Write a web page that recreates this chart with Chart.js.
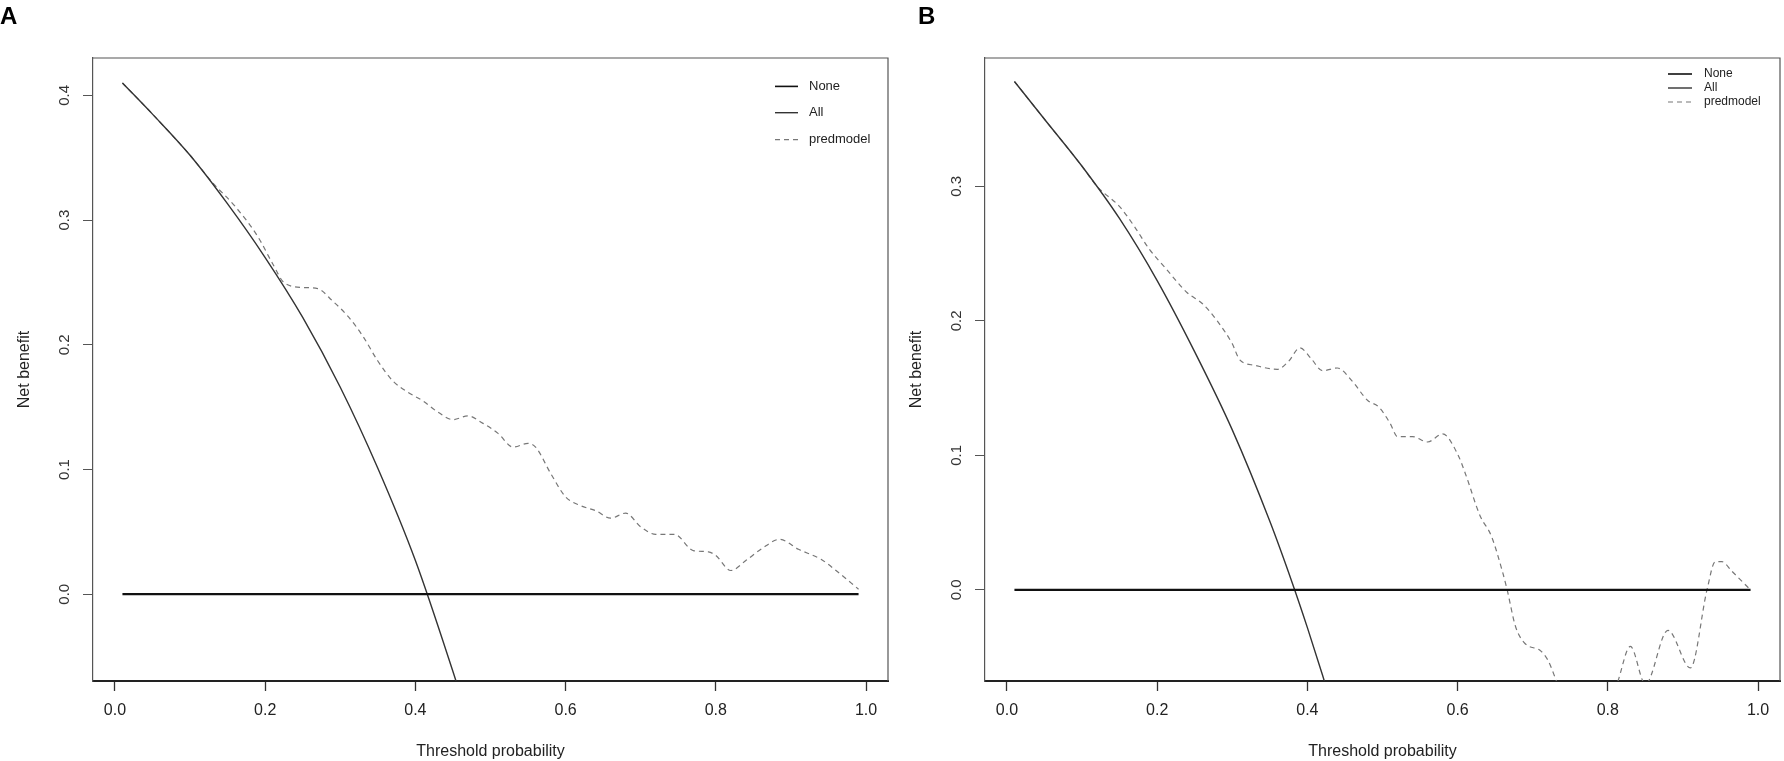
<!DOCTYPE html>
<html>
<head>
<meta charset="utf-8">
<script src="https://cdn.jsdelivr.net/npm/chart.js@4.4.1/dist/chart.umd.min.js"></script>
<style>
html, body { margin: 0; padding: 0; background: #fff; overflow: hidden; }
.panel { position: absolute; top: 0; width: 892px; height: 761px; }
#panelA { left: 0; }
#panelB { left: 892px; }
</style>
</head>
<body>
<div class="panel" id="panelA"><canvas id="chartA"></canvas></div>
<div class="panel" id="panelB"><canvas id="chartB"></canvas></div>
<script>
// ticks
const xTicks = [0, 0.2, 0.4, 0.6, 0.8, 1.0];
const yTicksA = [0, 0.1, 0.2, 0.3, 0.4];
const yTicksB = [0, 0.1, 0.2, 0.3];
const seriesNames = ['None', 'All', 'predmodel'];

// "None" reference line (both panels)
const noneX = [0.01, 0.99];
const noneY = [0, 0];

// Panel A
const allXA = [0.01, 0.05, 0.10, 0.15, 0.20, 0.25, 0.30, 0.35, 0.40, 0.45, 0.47];
const allYA = [0.410, 0.385, 0.352, 0.313, 0.270, 0.222, 0.166, 0.101, 0.027, -0.062, -0.100];
const modelXA = [0.01, 0.05, 0.10, 0.13, 0.16, 0.19, 0.21, 0.225, 0.25, 0.27,
                 0.29, 0.31, 0.33, 0.35, 0.37, 0.39, 0.41, 0.43, 0.45, 0.47,
                 0.49, 0.51, 0.53, 0.55, 0.56, 0.58, 0.60, 0.62, 0.64, 0.66,
                 0.68, 0.70, 0.72, 0.745, 0.77, 0.79, 0.80, 0.82, 0.84, 0.86,
                 0.885, 0.91, 0.94, 0.96, 0.99];
const modelYA = [0.410, 0.385, 0.352, 0.330, 0.311, 0.287, 0.265, 0.250, 0.246, 0.245,
                 0.235, 0.223, 0.207, 0.187, 0.171, 0.162, 0.155, 0.146, 0.140, 0.143,
                 0.137, 0.129, 0.118, 0.121, 0.118, 0.097, 0.078, 0.071, 0.067, 0.061,
                 0.065, 0.054, 0.048, 0.048, 0.035, 0.034, 0.031, 0.019, 0.027, 0.036,
                 0.044, 0.036, 0.028, 0.019, 0.004];

// Panel B
const allXB = [0.01, 0.05, 0.10, 0.15, 0.20, 0.25, 0.30, 0.35, 0.38, 0.40, 0.42, 0.44];
const allYB = [0.378, 0.350, 0.315, 0.276, 0.230, 0.177, 0.119, 0.051, 0.005, -0.028, -0.063, -0.100];
const modelXB = [0.01, 0.05, 0.10, 0.12, 0.15, 0.17, 0.19, 0.21, 0.24, 0.26,
                 0.28, 0.30, 0.31, 0.33, 0.36, 0.375, 0.39, 0.405, 0.42, 0.44,
                 0.46, 0.48, 0.495, 0.51, 0.52, 0.54, 0.56, 0.58, 0.60, 0.61,
                 0.63, 0.645, 0.66, 0.666, 0.677, 0.69, 0.71, 0.72, 0.735, 0.76,
                 0.79, 0.812, 0.83, 0.85, 0.88, 0.91, 0.932, 0.943, 0.952, 0.965,
                 0.99];
const modelYB = [0.378, 0.350, 0.315, 0.300, 0.285, 0.270, 0.253, 0.240, 0.221, 0.213,
                 0.200, 0.183, 0.171, 0.167, 0.164, 0.170, 0.180, 0.172, 0.163, 0.165,
                 0.155, 0.141, 0.136, 0.124, 0.114, 0.114, 0.110, 0.116, 0.101, 0.087,
                 0.055, 0.040, 0.013, 0.000, -0.027, -0.040, -0.045, -0.052, -0.072, -0.095,
                 -0.095, -0.070, -0.042, -0.070, -0.030, -0.058, 0.000, 0.021, 0.021, 0.014,
                 0.000];

Chart.defaults.font.family = '"Liberation Sans", Arial, sans-serif';
Chart.defaults.animation = false;

function pts(xs, ys) {
  return xs.map((x, i) => ({ x: x, y: ys[i] }));
}

// top + right sides of the R style box
const rFrame = {
  id: 'rFrame',
  afterDatasetsDraw(chart) {
    const { ctx, chartArea: a } = chart;
    ctx.save();
    ctx.strokeStyle = '#555';
    ctx.lineWidth = 1.2;
    ctx.beginPath();
    ctx.moveTo(a.left, a.top);
    ctx.lineTo(a.right, a.top);
    ctx.lineTo(a.right, a.bottom);
    ctx.stroke();
    ctx.restore();
  }
};

// legend in the top right corner, uses the dataset styles
const rLegend = {
  id: 'rLegend',
  afterDraw(chart, args, o) {
    const { ctx, chartArea: a } = chart;
    ctx.save();
    ctx.font = o.size + 'px "Liberation Sans", Arial, sans-serif';
    ctx.textBaseline = 'middle';
    ctx.fillStyle = '#222';
    chart.data.datasets.forEach((ds, i) => {
      const y = a.top + o.rows[i];
      ctx.strokeStyle = ds.borderColor;
      ctx.lineWidth = Math.min(ds.borderWidth, 1.6);
      ctx.setLineDash(ds.borderDash || []);
      ctx.beginPath();
      ctx.moveTo(a.right - o.lineFrom, y);
      ctx.lineTo(a.right - o.lineTo, y);
      ctx.stroke();
      ctx.fillText(ds.label, a.right - o.textAt, y);
    });
    ctx.restore();
  }
};

const panelTag = {
  id: 'panelTag',
  afterDraw(chart, args, o) {
    const ctx = chart.ctx;
    ctx.save();
    ctx.font = 'bold 24px "Liberation Sans", Arial, sans-serif';
    ctx.fillStyle = '#000';
    ctx.textBaseline = 'alphabetic';
    ctx.fillText(o.text, o.x, 24);
    ctx.restore();
  }
};

function makeChart(id, tag, tagX, allX, allY, modelX, modelY, yTicks, yMin, yMax, legend) {
  return new Chart(document.getElementById(id), {
    type: 'line',
    data: {
      datasets: [
        {
          label: seriesNames[0],
          data: pts(noneX, noneY),
          borderColor: '#111',
          borderWidth: 2.2,
          pointRadius: 0
        },
        {
          label: seriesNames[1],
          data: pts(allX, allY),
          borderColor: '#333',
          borderWidth: 1.4,
          pointRadius: 0,
          cubicInterpolationMode: 'monotone'
        },
        {
          label: seriesNames[2],
          data: pts(modelX, modelY),
          borderColor: '#777',
          borderWidth: 1.2,
          borderDash: [5, 4],
          pointRadius: 0,
          cubicInterpolationMode: 'monotone'
        }
      ]
    },
    options: {
      responsive: true,
      maintainAspectRatio: false,
      layout: { padding: { top: 58, right: 4, bottom: 0, left: 0 } },
      plugins: {
        legend: { display: false },
        tooltip: { enabled: false },
        rLegend: legend,
        panelTag: { text: tag, x: tagX }
      },
      scales: {
        x: {
          type: 'linear',
          min: -0.0292,
          max: 1.0292,
          afterBuildTicks: s => { s.ticks = xTicks.map(v => ({ value: v })); },
          afterFit: s => { s.height = 80; },
          ticks: {
            padding: 10,
            color: '#222',
            font: { size: 16 },
            maxRotation: 0,
            autoSkip: false,
            callback: v => v.toFixed(1)
          },
          grid: { drawOnChartArea: false, tickLength: 10, tickColor: '#333', tickWidth: 1.3 },
          border: { display: true, color: '#222', width: 2 },
          title: {
            display: true,
            text: 'Threshold probability',
            color: '#222',
            font: { size: 16 },
            padding: { top: 0, bottom: 0 }
          }
        },
        y: {
          type: 'linear',
          min: yMin,
          max: yMax,
          afterBuildTicks: s => { s.ticks = yTicks.map(v => ({ value: v })); },
          afterFit: s => { s.width = 93; },
          ticks: {
            minRotation: 90,
            maxRotation: 90,
            crossAlign: 'center',
            padding: 8,
            color: '#333',
            font: { size: 15 },
            callback: v => v.toFixed(1)
          },
          grid: { drawOnChartArea: false, tickLength: 10, tickColor: '#555', tickWidth: 1 },
          border: { display: true, color: '#555', width: 1.2 },
          title: {
            display: true,
            text: 'Net benefit',
            color: '#222',
            font: { size: 16 },
            padding: { top: 15, bottom: 0 }
          }
        }
      }
    },
    plugins: [rFrame, rLegend, panelTag]
  });
}

makeChart('chartA', 'A', 0, allXA, allYA, modelXA, modelYA, yTicksA, -0.0696, 0.430,
  { size: 13, rows: [28.4, 54.7, 81.7], lineFrom: 113, lineTo: 90, textAt: 79 });

makeChart('chartB', 'B', 26, allXB, allYB, modelXB, modelYB, yTicksB, -0.0677, 0.3955,
  { size: 12, rows: [16, 30, 44], lineFrom: 112, lineTo: 88, textAt: 76 });
</script>
</body>
</html>
